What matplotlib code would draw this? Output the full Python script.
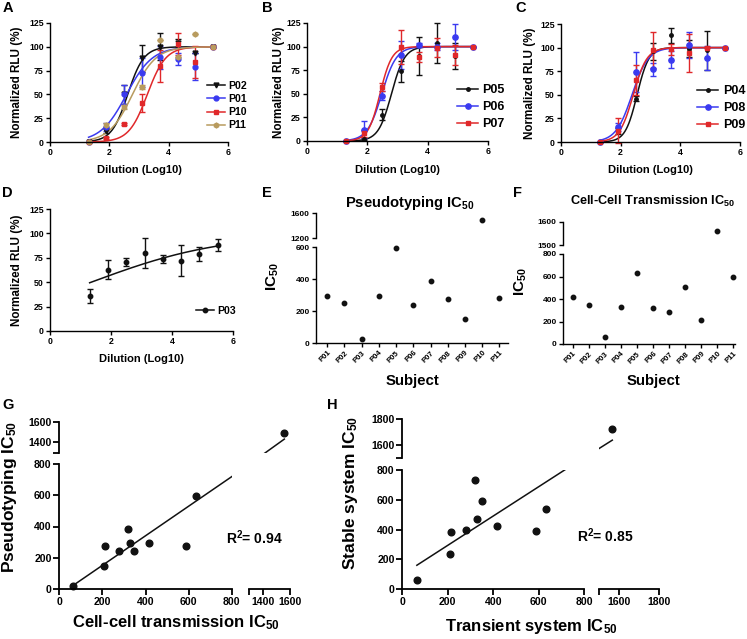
import numpy as np
import matplotlib
matplotlib.use('Agg')
import matplotlib.pyplot as plt
from matplotlib.lines import Line2D

plt.rcParams['font.family'] = ['Liberation Sans', 'DejaVu Sans']
plt.rcParams['font.weight'] = 'bold'
plt.rcParams['mathtext.fontset'] = 'custom'
plt.rcParams['mathtext.rm'] = 'Liberation Sans:bold'
plt.rcParams['mathtext.it'] = 'Liberation Sans:bold'
plt.rcParams['mathtext.bf'] = 'Liberation Sans:bold'
plt.rcParams['mathtext.default'] = 'rm'

'''DATA'''
dilution = [1.3, 1.9, 2.5, 3.1, 3.7, 4.3, 4.9, 5.5]

# panel A
a_names = ['P02', 'P01', 'P10', 'P11']
a_mean = [[0, 12, 50, 88, 100, 104, 94, 100],
          [0, 16, 50, 73, 89, 87, 79, 100],
          [0, 4, 19, 41, 80, 103, 84, 100],
          [0, 18, 37, 58, 107, 89, 113, 100]]
a_err = [[0, 3, 10, 14, 14, 4, 0, 0],
         [0, 4, 10, 15, 12, 6, 14, 0],
         [0, 1, 1, 9, 17, 12, 17, 0],
         [0, 2, 2, 2, 0, 0, 0, 0]]
a_logic50 = [2.62, 2.58, 3.28, 2.78]
a_hill = [1.6, 1.0, 1.4, 1.1]

# panel B
b_names = ['P05', 'P06', 'P07']
b_mean = [[0, 2, 28, 74, 90, 104, 90, 100],
          [0, 12, 48, 91, 102, 100, 110, 100],
          [0, 8, 57, 100, 89, 99, 91, 100]]
b_err = [[0, 1, 6, 11, 20, 21, 14, 0],
         [0, 9, 5, 15, 2, 4, 14, 0],
         [0, 4, 4, 18, 5, 10, 11, 0]]
b_logic50 = [2.8, 2.48, 2.42]
b_hill = [2.0, 1.8, 2.2]

# panel C
c_names = ['P04', 'P08', 'P09']
c_mean = [[0, 12, 46, 96, 113, 99, 97, 100],
          [0, 16, 74, 77, 87, 103, 89, 100],
          [0, 12, 66, 97, 98, 94, 100, 100]]
c_err = [[0, 3, 3, 9, 8, 9, 21, 0],
         [0, 4, 21, 7, 9, 14, 13, 0],
         [0, 13, 16, 19, 6, 20, 0, 0]]
c_logic50 = [2.55, 2.38, 2.42]
c_hill = [2.2, 1.6, 1.9]

# panel D
d_mean = [36, 63, 71, 80, 74, 72, 79, 88]
d_err = [7, 10, 4, 15, 4, 16, 7, 6]
d_logic50 = 1.35
d_hill = 0.2

# panels E, F
subjects = ['P01', 'P02', 'P03', 'P04', 'P05', 'P06', 'P07', 'P08', 'P09', 'P10', 'P11']
pseudo_ic50 = [296, 248, 22, 296, 592, 240, 388, 275, 150, 1490, 281]
cellcell_ic50 = [418, 349, 62, 329, 634, 320, 282, 504, 213, 1561, 593]

# panel G
g_x = [62, 209, 212, 279, 320, 327, 348, 418, 588, 633, 1558]
g_y = [21, 150, 277, 243, 387, 293, 246, 295, 274, 595, 1490]
g_r2 = 0.94

# panel H
h_x = [64, 210, 213, 280, 321, 328, 350, 418, 588, 633, 1565]
h_y = [60, 239, 387, 398, 731, 472, 594, 427, 393, 541, 1727]
h_r2 = 0.85

BLACK = '#111111'
BLUE = '#3a3af0'
RED = '#e0282a'
TAN = '#b89b5e'

W, H = 747, 639
fig = plt.figure(figsize=(W / 100, H / 100), dpi=100)


def add_ax(x0, y0, x1, y1):
    return fig.add_axes([x0 / W, 1 - y1 / H, (x1 - x0) / W, (y1 - y0) / H])


def ftext(x, y, s, **kw):
    fig.text(x / W, 1 - y / H, s, **kw)


def style(ax, size, lw=1.0, tl=3, left=True, bottom=True):
    for side in ['top', 'right']:
        ax.spines[side].set_visible(False)
    ax.spines['left'].set_visible(left)
    ax.spines['bottom'].set_visible(bottom)
    for side in ['left', 'bottom']:
        ax.spines[side].set_linewidth(lw)
    ax.tick_params(direction='out', length=tl, width=lw, labelsize=size, pad=1.5)
    if not left:
        ax.tick_params(axis='y', left=False, labelleft=False)
    if not bottom:
        ax.tick_params(axis='x', bottom=False, labelbottom=False)
    ax.patch.set_alpha(0)


def fourpl(x, logic50, hill):
    return 100 / (1 + 10 ** ((logic50 - x) * hill))


def noclip(ax):
    for ch in ax.get_children():
        if hasattr(ch, 'set_clip_on') and not isinstance(ch, matplotlib.spines.Spine):
            ch.set_clip_on(False)


def curve_panel(ax, names, means, errs, logs, hills, colors, markers, msizes):
    xs = np.linspace(dilution[0], dilution[-1], 200)
    handles = []
    for i in range(len(names)):
        ax.plot(xs, fourpl(xs, logs[i], hills[i]), color=colors[i], lw=1.1)
        ax.errorbar(dilution, means[i], yerr=errs[i], fmt=markers[i], color=colors[i],
                    ms=msizes[i], capsize=2.2, elinewidth=1.0, capthick=1.0)
        handles.append(Line2D([], [], color=colors[i], marker=markers[i], ms=msizes[i], lw=1.1))
    noclip(ax)
    ax.set_xlim(0, 6)
    ax.set_ylim(0, 125)
    ax.set_xticks([0, 2, 4, 6])
    ax.set_yticks([0, 25, 50, 75, 100, 125])
    style(ax, 6.3)
    return handles


def legend(ax, handles, names, x, y, size, spacing):
    ax.legend(handles, names, loc='upper left', bbox_to_anchor=(x / W, 1 - y / H),
              bbox_transform=fig.transFigure, frameon=False, fontsize=size,
              handlelength=1.7, handletextpad=0.35, borderpad=0, borderaxespad=0,
              labelspacing=spacing)


# A
axA = add_ax(50, 23, 228, 142)
hA = curve_panel(axA, a_names, a_mean, a_err, a_logic50, a_hill,
                 [BLACK, BLUE, RED, TAN], ['v', 'o', 's', 'h'], [3.5, 3.5, 3.5, 3.5])
legend(axA, hA, a_names, 207, 81, 7.6, 0.3)

# B
axB = add_ax(307, 23, 488, 141)
hB = curve_panel(axB, b_names, b_mean, b_err, b_logic50, b_hill,
                 [BLACK, BLUE, RED], ['o', 'o', 's'], [2.5, 3.8, 3.5])
legend(axB, hB, b_names, 457, 84, 9, 0.4)

# C
axC = add_ax(561, 24, 740, 142)
hC = curve_panel(axC, c_names, c_mean, c_err, c_logic50, c_hill,
                 [BLACK, BLUE, RED], ['o', 'o', 's'], [2.5, 3.8, 3.5])
legend(axC, hC, c_names, 697, 85, 9, 0.4)

# D
axD = add_ax(50, 209, 233, 331)
xs = np.linspace(dilution[0], dilution[-1], 200)
axD.plot(xs, fourpl(xs, d_logic50, d_hill), color=BLACK, lw=1.1)
axD.errorbar(dilution, d_mean, yerr=d_err, fmt='o', color=BLACK, ms=3.2,
             capsize=2.2, elinewidth=1.0, capthick=1.0)
axD.set_xlim(0, 6)
axD.set_ylim(0, 125)
axD.set_xticks([0, 2, 4, 6])
axD.set_yticks([0, 25, 50, 75, 100, 125])
style(axD, 6.3)
legend(axD, [Line2D([], [], color=BLACK, marker='o', ms=3.2, lw=1.1)], ['P03'], 196, 306, 7.6, 0.3)

for x, y in [(17, 82), (17, 270), (279, 82), (530, 83)]:
    ftext(x, y, 'Normalized RLU (%)', rotation=90, ha='center', va='center', fontsize=8.4)
for x, y in [(139, 170), (397, 170), (650, 170), (141, 359)]:
    ftext(x, y, 'Dilution (Log10)', ha='center', va='center', fontsize=8)


# E and F: broken y axis dot plots
def dot_panel(x0, x1, ybot, lo_px, lo_max, hi_px, hi_lim, values, lo_ticks, hi_ticks, xlim):
    pos = np.arange(len(subjects))
    vals = np.array(values)
    lo = add_ax(x0, lo_px, x1, ybot)
    hi = add_ax(x0, hi_px[0], x1, hi_px[1])
    m = vals <= lo_max
    lo.plot(pos[m], vals[m], 'o', color=BLACK, ms=3.2, clip_on=False)
    m = vals >= hi_lim[0]
    hi.plot(pos[m], vals[m], 'o', color=BLACK, ms=3.2, clip_on=False)
    lo.set_ylim(0, lo_max)
    hi.set_ylim(*hi_lim)
    for a in (lo, hi):
        a.set_xlim(*xlim)
    lo.set_yticks(lo_ticks)
    hi.set_yticks(hi_ticks)
    lo.set_xticks(pos)
    lo.set_xticklabels(subjects, rotation=45, ha='right', rotation_mode='anchor')
    style(lo, 6)
    style(hi, 6, bottom=False)
    lo.tick_params(axis='x', labelsize=5.6)
    return lo, hi


dot_panel(316, 508, 343, 247, 600, (213, 238), (1200, 1600), pseudo_ic50,
          [0, 200, 400, 600], [1200, 1600], (-0.65, 10.5))
dot_panel(563, 735, 344, 254, 800, (222, 245), (1500, 1600), cellcell_ic50,
          [0, 200, 400, 600, 800], [1500, 1600], (-0.62, 10.1))

ftext(410, 203, 'Pseudotyping IC$_{50}$', ha='center', va='center', fontsize=10.6)
ftext(653, 201, 'Cell-Cell Transmission IC$_{50}$', ha='center', va='center', fontsize=9.2)
ftext(273, 277, 'IC$_{50}$', rotation=90, ha='center', va='center', fontsize=11)
ftext(521, 282, 'IC$_{50}$', rotation=90, ha='center', va='center', fontsize=11)
ftext(412, 381, 'Subject', ha='center', va='center', fontsize=10.8)
ftext(653, 381, 'Subject', ha='center', va='center', fontsize=10.8)


# G and H: broken x and y axes scatter with linear fit
def scatter_panel(xv, yv, xl, xr, yb, yt, lo_lim, hi_lim, hi_ticks):
    xv = np.array(xv, dtype=float)
    yv = np.array(yv, dtype=float)
    slope, icpt = np.polyfit(xv, yv, 1)
    fx = np.linspace(xv.min(), xv.max(), 400)
    fy = slope * fx + icpt
    bl = add_ax(xl[0], yb[0], xl[1], yb[1])
    tl = add_ax(xl[0], yt[0], xl[1], yt[1])
    br = add_ax(xr[0], yb[0], xr[1], yb[1])
    tr = add_ax(xr[0], yt[0], xr[1], yt[1])
    for a, xlim, ylim in [(bl, (0, lo_lim), (0, lo_lim)), (tl, (0, lo_lim), hi_lim),
                          (br, hi_lim, (0, lo_lim)), (tr, hi_lim, hi_lim)]:
        a.plot(fx, fy, color=BLACK, lw=1.1)
        m = (xv >= xlim[0]) & (xv <= xlim[1]) & (yv >= ylim[0]) & (yv <= ylim[1])
        a.plot(xv[m], yv[m], 'o', color=BLACK, ms=4.8, clip_on=False)
        a.set_xlim(*xlim)
        a.set_ylim(*ylim)
    bl.set_xticks([0, 200, 400, 600, 800])
    bl.set_yticks([0, 200, 400, 600, 800])
    tl.set_yticks([hi_lim[0]] + hi_ticks)
    tl.set_yticklabels([''] + [str(t) for t in hi_ticks])
    br.set_xticks([hi_lim[0]] + hi_ticks)
    br.set_xticklabels([''] + [str(t) for t in hi_ticks])
    style(bl, 7.6, lw=1.3, tl=4)
    style(tl, 7.6, lw=1.3, tl=4, bottom=False)
    style(br, 7.6, lw=1.3, tl=4, left=False)
    style(tr, 7.6, lw=1.3, tl=4, left=False, bottom=False)


scatter_panel(g_x, g_y, (59.3, 231.7), (249.5, 290), (463.7, 589.3), (421.7, 452.6),
              800, (1300, 1600), [1400, 1600])
scatter_panel(h_x, h_y, (402.3, 584.3), (599.3, 659.3), (470, 589.3), (419.3, 457.8),
              800, (1500, 1800), [1600, 1800])

ftext(10, 497, 'Pseudotyping IC$_{50}$', rotation=90, ha='center', va='center', fontsize=12.5)
ftext(176, 623, 'Cell-cell transmission IC$_{50}$', ha='center', va='center', fontsize=12)
ftext(350, 493, 'Stable system IC$_{50}$', rotation=90, ha='center', va='center', fontsize=12.5)
ftext(531, 627, 'Transient system IC$_{50}$', ha='center', va='center', fontsize=12)
ftext(226, 538, f'R$^2$= {g_r2}', ha='left', va='center', fontsize=10)
ftext(577, 536, f'R$^2$= {h_r2}', ha='left', va='center', fontsize=10)

# panel letters
for letter, x, y in [('A', 3, 8), ('B', 262, 8), ('C', 515, 8), ('D', 2, 193), ('E', 262, 193),
                     ('F', 513, 193), ('G', 2, 405), ('H', 327, 405)]:
    ftext(x, y, letter, ha='left', va='center', fontsize=10.5)

fig.savefig('out.png', dpi=100)
